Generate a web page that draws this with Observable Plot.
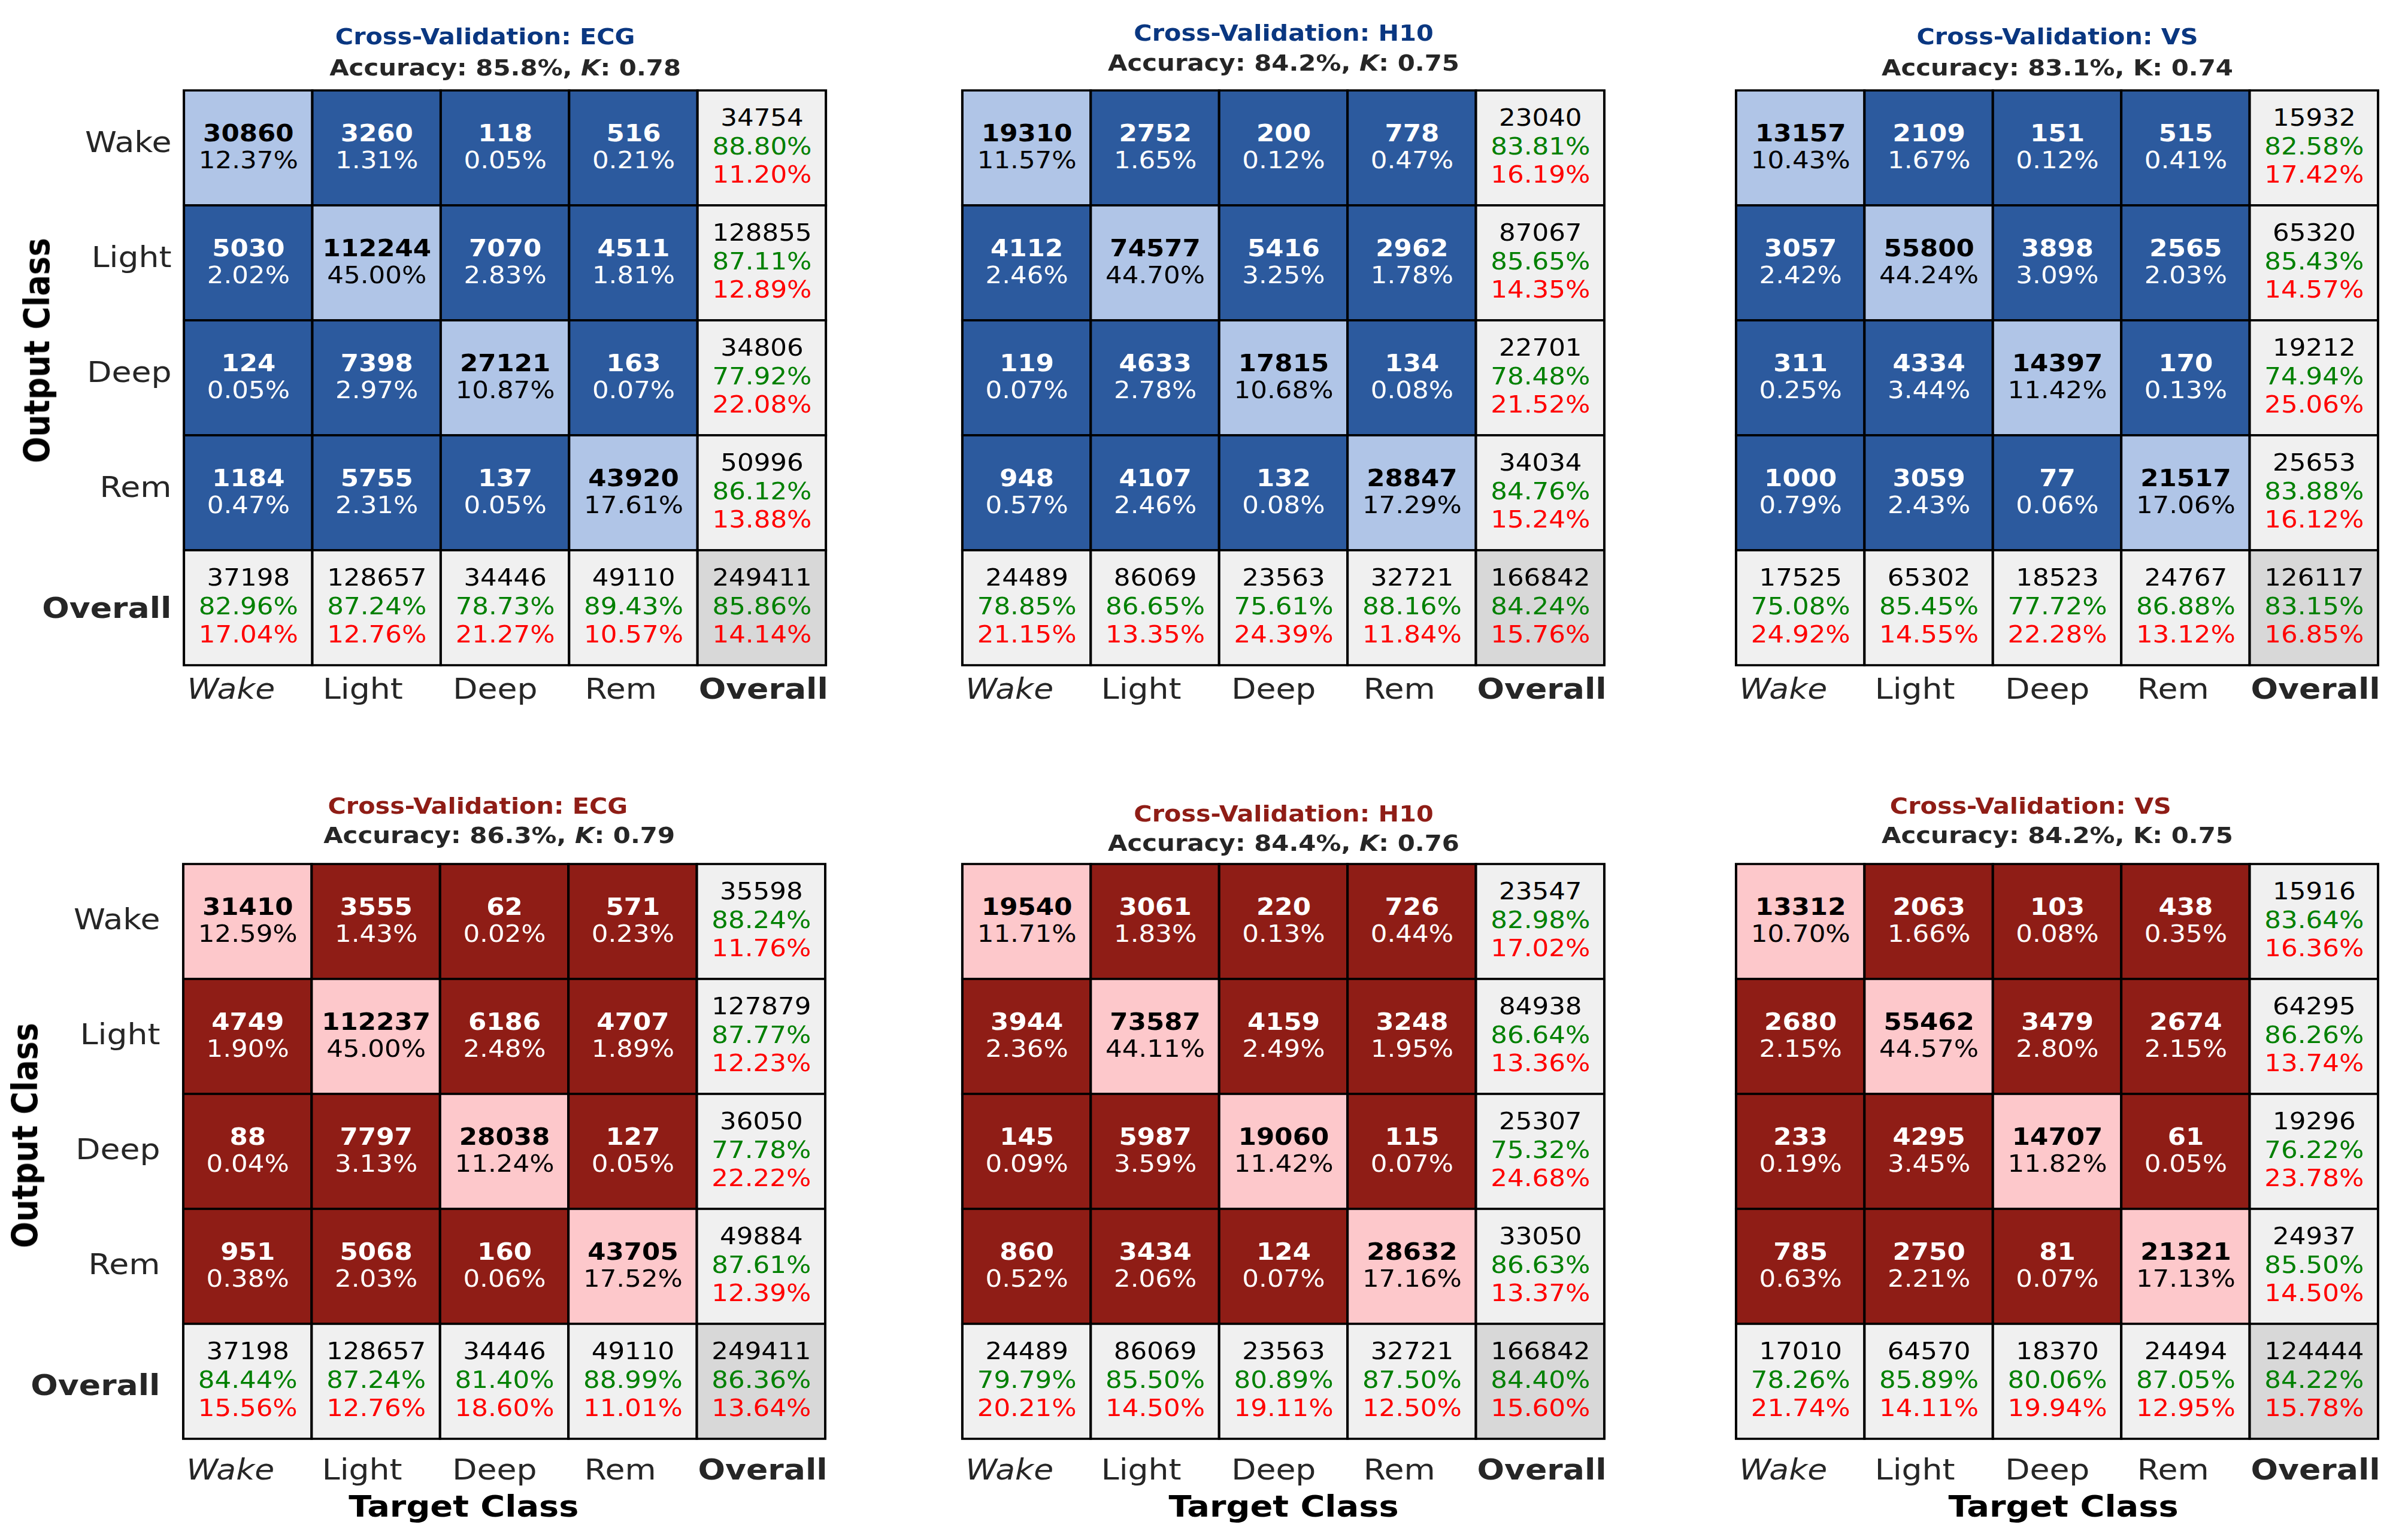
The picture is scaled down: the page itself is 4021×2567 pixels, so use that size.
<!DOCTYPE html>
<html>
<head>
<meta charset="utf-8">
<script src="https://cdn.jsdelivr.net/npm/d3@7"></script>
<script src="https://cdn.jsdelivr.net/npm/@observablehq/plot@0.6"></script>
<style>
html, body { margin: 0; padding: 0; background: #ffffff; }
body { width: 4021px; height: 2567px; overflow: hidden; position: relative; }
#stage { position: absolute; left: 0; top: 0; width: 3601px; height: 2567px; transform: scaleX(1.1167); transform-origin: 0 0; }
#stage > svg { position: absolute; overflow: visible; }
</style>
</head>
<body>
<div id="stage"></div>
<script>
// ---------------- DATA ----------------
const classes = ["Wake", "Light", "Deep", "Rem"];
const axisLabels = ["Wake", "Light", "Deep", "Rem", "Overall"];
const modalities = ["ECG", "H10", "VS"];
const summaryAccuracy = [85.8, 84.2, 83.1, 86.3, 84.4, 84.2];
const summaryKappa = [0.78, 0.75, 0.74, 0.79, 0.76, 0.75];

// top row, ECG
const topEcgCounts = [[30860, 3260, 118, 516, 34754], [5030, 112244, 7070, 4511, 128855], [124, 7398, 27121, 163, 34806], [1184, 5755, 137, 43920, 50996], [37198, 128657, 34446, 49110, 249411]];
const topEcgPct = [[12.37, 1.31, 0.05, 0.21], [2.02, 45.00, 2.83, 1.81], [0.05, 2.97, 10.87, 0.07], [0.47, 2.31, 0.05, 17.61]];
const topEcgRowAcc = [88.80, 87.11, 77.92, 86.12];
const topEcgRowErr = [11.20, 12.89, 22.08, 13.88];
const topEcgColAcc = [82.96, 87.24, 78.73, 89.43, 85.86];
const topEcgColErr = [17.04, 12.76, 21.27, 10.57, 14.14];

// top row, H10
const topH10Counts = [[19310, 2752, 200, 778, 23040], [4112, 74577, 5416, 2962, 87067], [119, 4633, 17815, 134, 22701], [948, 4107, 132, 28847, 34034], [24489, 86069, 23563, 32721, 166842]];
const topH10Pct = [[11.57, 1.65, 0.12, 0.47], [2.46, 44.70, 3.25, 1.78], [0.07, 2.78, 10.68, 0.08], [0.57, 2.46, 0.08, 17.29]];
const topH10RowAcc = [83.81, 85.65, 78.48, 84.76];
const topH10RowErr = [16.19, 14.35, 21.52, 15.24];
const topH10ColAcc = [78.85, 86.65, 75.61, 88.16, 84.24];
const topH10ColErr = [21.15, 13.35, 24.39, 11.84, 15.76];

// top row, VS
const topVsCounts = [[13157, 2109, 151, 515, 15932], [3057, 55800, 3898, 2565, 65320], [311, 4334, 14397, 170, 19212], [1000, 3059, 77, 21517, 25653], [17525, 65302, 18523, 24767, 126117]];
const topVsPct = [[10.43, 1.67, 0.12, 0.41], [2.42, 44.24, 3.09, 2.03], [0.25, 3.44, 11.42, 0.13], [0.79, 2.43, 0.06, 17.06]];
const topVsRowAcc = [82.58, 85.43, 74.94, 83.88];
const topVsRowErr = [17.42, 14.57, 25.06, 16.12];
const topVsColAcc = [75.08, 85.45, 77.72, 86.88, 83.15];
const topVsColErr = [24.92, 14.55, 22.28, 13.12, 16.85];

// bottom row, ECG
const botEcgCounts = [[31410, 3555, 62, 571, 35598], [4749, 112237, 6186, 4707, 127879], [88, 7797, 28038, 127, 36050], [951, 5068, 160, 43705, 49884], [37198, 128657, 34446, 49110, 249411]];
const botEcgPct = [[12.59, 1.43, 0.02, 0.23], [1.90, 45.00, 2.48, 1.89], [0.04, 3.13, 11.24, 0.05], [0.38, 2.03, 0.06, 17.52]];
const botEcgRowAcc = [88.24, 87.77, 77.78, 87.61];
const botEcgRowErr = [11.76, 12.23, 22.22, 12.39];
const botEcgColAcc = [84.44, 87.24, 81.40, 88.99, 86.36];
const botEcgColErr = [15.56, 12.76, 18.60, 11.01, 13.64];

// bottom row, H10
const botH10Counts = [[19540, 3061, 220, 726, 23547], [3944, 73587, 4159, 3248, 84938], [145, 5987, 19060, 115, 25307], [860, 3434, 124, 28632, 33050], [24489, 86069, 23563, 32721, 166842]];
const botH10Pct = [[11.71, 1.83, 0.13, 0.44], [2.36, 44.11, 2.49, 1.95], [0.09, 3.59, 11.42, 0.07], [0.52, 2.06, 0.07, 17.16]];
const botH10RowAcc = [82.98, 86.64, 75.32, 86.63];
const botH10RowErr = [17.02, 13.36, 24.68, 13.37];
const botH10ColAcc = [79.79, 85.50, 80.89, 87.50, 84.40];
const botH10ColErr = [20.21, 14.50, 19.11, 12.50, 15.60];

// bottom row, VS
const botVsCounts = [[13312, 2063, 103, 438, 15916], [2680, 55462, 3479, 2674, 64295], [233, 4295, 14707, 61, 19296], [785, 2750, 81, 21321, 24937], [17010, 64570, 18370, 24494, 124444]];
const botVsPct = [[10.70, 1.66, 0.08, 0.35], [2.15, 44.57, 2.80, 2.15], [0.19, 3.45, 11.82, 0.05], [0.63, 2.21, 0.07, 17.13]];
const botVsRowAcc = [83.64, 86.26, 76.22, 85.50];
const botVsRowErr = [16.36, 13.74, 23.78, 14.50];
const botVsColAcc = [78.26, 85.89, 80.06, 87.05, 84.22];
const botVsColErr = [21.74, 14.11, 19.94, 12.95, 15.78];

// ---------------- DRAWING ----------------
const themes = {
  blue: { off: "#2c5a9e", diag: "#b0c5e7", title: "#0a3781" },
  red:  { off: "#8f1d16", diag: "#fdc8cb", title: "#8f1d16" }
};
const marginFill = "#f0f0f0", totalFill = "#d8d8d8";
const fmtPct = v => v.toFixed(2) + "%";

function buildCells(counts, pct, rowAcc, rowErr, colAcc, colErr) {
  const cells = [];
  for (let r = 0; r < 5; r++) {
    for (let c = 0; c < 5; c++) {
      const d = { row: axisLabels[r], col: axisLabels[c], count: counts[r][c] };
      if (r < 4 && c < 4) { d.kind = r === c ? "diag" : "off"; d.pct = pct[r][c]; }
      else if (c === 4 && r < 4) { d.kind = "margin"; d.acc = rowAcc[r]; d.err = rowErr[r]; }
      else if (r === 4 && c < 4) { d.kind = "margin"; d.acc = colAcc[c]; d.err = colErr[c]; }
      else { d.kind = "total"; d.acc = colAcc[4]; d.err = colErr[4]; }
      cells.push(d);
    }
  }
  return cells;
}

const panels = [
  { cells: buildCells(topEcgCounts, topEcgPct, topEcgRowAcc, topEcgRowErr, topEcgColAcc, topEcgColErr), mod: 0, sum: 0, theme: "blue",
    L: 275.4, T: 150.5, rowLab: true, rowPad: 19, rowDy: 6, rowTitleDx: -202, rowTitleDy: -46, xTitle: false,
    tDx: -30, tDy: -77.5, sDx: 0, sDy: -25.5, colDy: 55, kItalic: true },
  { cells: buildCells(topH10Counts, topH10Pct, topH10RowAcc, topH10RowErr, topH10ColAcc, topH10ColErr), mod: 1, sum: 1, theme: "blue",
    L: 1439.3, T: 150.5, rowLab: false, xTitle: false,
    tDx: 0, tDy: -83.5, sDx: 0, sDy: -33.5, colDy: 55, kItalic: true },
  { cells: buildCells(topVsCounts, topVsPct, topVsRowAcc, topVsRowErr, topVsColAcc, topVsColErr), mod: 2, sum: 2, theme: "blue",
    L: 2596, T: 150.5, rowLab: false, xTitle: false,
    tDx: 0, tDy: -77.5, sDx: 0, sDy: -25.5, colDy: 55, kItalic: false },
  { cells: buildCells(botEcgCounts, botEcgPct, botEcgRowAcc, botEcgRowErr, botEcgColAcc, botEcgColErr), mod: 0, sum: 3, theme: "red",
    L: 274, T: 1443, rowLab: true, rowPad: 35, rowDy: 12, rowTitleDx: -219, rowTitleDy: -27, xTitle: true, xTitleDx: -61,
    tDx: -40, tDy: -85, sDx: -8, sDy: -36, colDy: 67, kItalic: true },
  { cells: buildCells(botH10Counts, botH10Pct, botH10RowAcc, botH10RowErr, botH10ColAcc, botH10ColErr), mod: 1, sum: 4, theme: "red",
    L: 1439.3, T: 1443, rowLab: false, xTitle: true, xTitleDx: 0,
    tDx: 0, tDy: -72, sDx: 0, sDy: -23, colDy: 67, kItalic: true },
  { cells: buildCells(botVsCounts, botVsPct, botVsRowAcc, botVsRowErr, botVsColAcc, botVsColErr), mod: 2, sum: 5, theme: "red",
    L: 2596, T: 1443, rowLab: false, xTitle: true, xTitleDx: 9,
    tDx: -40, tDy: -85, sDx: 0, sDy: -36, colDy: 67, kItalic: false }
];

const colNudge = { Wake: -26, Light: -21, Deep: -15, Rem: -19, Overall: 2 };
const mL = 270, mR = 20, mT = 120, mB = 160, grid = 960;
const labelColor = "#262626";
const stage = document.getElementById("stage");

for (const p of panels) {
  const th = themes[p.theme];
  const fillOf = d => d.kind === "diag" ? th.diag : d.kind === "off" ? th.off : d.kind === "margin" ? marginFill : totalFill;
  const main = p.cells.filter(d => d.kind === "diag" || d.kind === "off");
  const side = p.cells.filter(d => d.kind === "margin" || d.kind === "total");
  const inkOf = d => d.kind === "diag" ? "black" : "white";
  const title = "Cross-Validation: " + modalities[p.mod];
  const accTxt = summaryAccuracy[p.sum].toFixed(1), kapTxt = summaryKappa[p.sum].toFixed(2);
  const subtitle = "Accuracy: " + accTxt + "%, K: " + kapTxt;

  const marks = [
    Plot.cell(p.cells, { x: "col", y: "row", fill: fillOf, stroke: "black", strokeWidth: 3.6 }),
    Plot.text(main, { x: "col", y: "row", text: d => String(d.count), fill: inkOf, fontWeight: "bold", fontSize: 39, lineAnchor: "bottom", dy: -11.5 }),
    Plot.text(main, { x: "col", y: "row", text: d => fmtPct(d.pct), fill: inkOf, fontSize: 39, lineAnchor: "bottom", dy: 33.5 }),
    Plot.text(side, { x: "col", y: "row", text: d => String(d.count), fill: "black", fontSize: 39, lineAnchor: "bottom", dy: -37.5 }),
    Plot.text(side, { x: "col", y: "row", text: d => fmtPct(d.acc), fill: "#008000", fontSize: 39, lineAnchor: "bottom", dy: 10.5 }),
    Plot.text(side, { x: "col", y: "row", text: d => fmtPct(d.err), fill: "#ff0000", fontSize: 39, lineAnchor: "bottom", dy: 57.5 }),
    Plot.text([title], { text: d => d, frameAnchor: "top", textAnchor: "middle", dx: p.tDx, dy: p.tDy, lineAnchor: "bottom", fontSize: 37, fontWeight: "bold", fill: th.title }),
    Plot.text([subtitle], { text: d => d, frameAnchor: "top", textAnchor: "middle", dx: p.sDx, dy: p.sDy, lineAnchor: "bottom", fontSize: 37.5, fontWeight: "bold", fill: labelColor })
  ];
  // column labels
  for (const lab of axisLabels) {
    marks.push(Plot.text([lab], {
      x: d => d, text: d => d, frameAnchor: "bottom", textAnchor: "middle", dx: colNudge[lab], dy: p.colDy, lineAnchor: "bottom",
      fontSize: 48, fill: labelColor,
      fontWeight: lab === "Overall" ? "bold" : "normal",
      fontStyle: lab === "Wake" ? "italic" : "normal"
    }));
  }
  if (p.rowLab) {
    marks.push(Plot.text(classes, { y: d => d, text: d => d, frameAnchor: "left", textAnchor: "end", dx: -p.rowPad, dy: p.rowDy, lineAnchor: "bottom", fontSize: 48, fill: labelColor }));
    marks.push(Plot.text(["Overall"], { y: d => d, text: d => d, frameAnchor: "left", textAnchor: "end", dx: -p.rowPad, dy: p.rowDy + 10, lineAnchor: "bottom", fontSize: 48, fontWeight: "bold", fill: labelColor }));
    marks.push(Plot.text(["Output Class"], { text: d => d, frameAnchor: "left", textAnchor: "middle", rotate: -90, dx: p.rowTitleDx, dy: p.rowTitleDy, lineAnchor: "bottom", fontSize: 52, fontWeight: "bold", fill: "black" }));
  }
  if (p.xTitle) {
    marks.push(Plot.text(["Target Class"], { text: d => d, frameAnchor: "bottom", textAnchor: "middle", dx: p.xTitleDx, dy: 129, lineAnchor: "bottom", fontSize: 50, fontWeight: "bold", fill: "black" }));
  }

  const svg = Plot.plot({
    width: mL + grid + mR,
    height: mT + grid + mB,
    marginLeft: mL, marginRight: mR, marginTop: mT, marginBottom: mB,
    x: { domain: axisLabels, padding: 0, axis: null },
    y: { domain: axisLabels, padding: 0, axis: null },
    color: { type: "identity" },
    style: { fontFamily: "DejaVu Sans", background: "none", overflow: "visible" },
    marks
  });
  // kappa symbol styling in the subtitle
  d3.select(svg).selectAll("text").filter(function () { return this.textContent === subtitle; }).each(function () {
    const t = d3.select(this);
    t.text(null);
    t.append("tspan").text("Accuracy: " + accTxt + "%, ");
    t.append("tspan").attr("font-style", p.kItalic ? "italic" : "normal").text("K");
    t.append("tspan").text(": " + kapTxt);
  });
  svg.style.left = (p.L - mL) + "px";
  svg.style.top = (p.T - mT) + "px";
  stage.appendChild(svg);
}
</script>
</body>
</html>
